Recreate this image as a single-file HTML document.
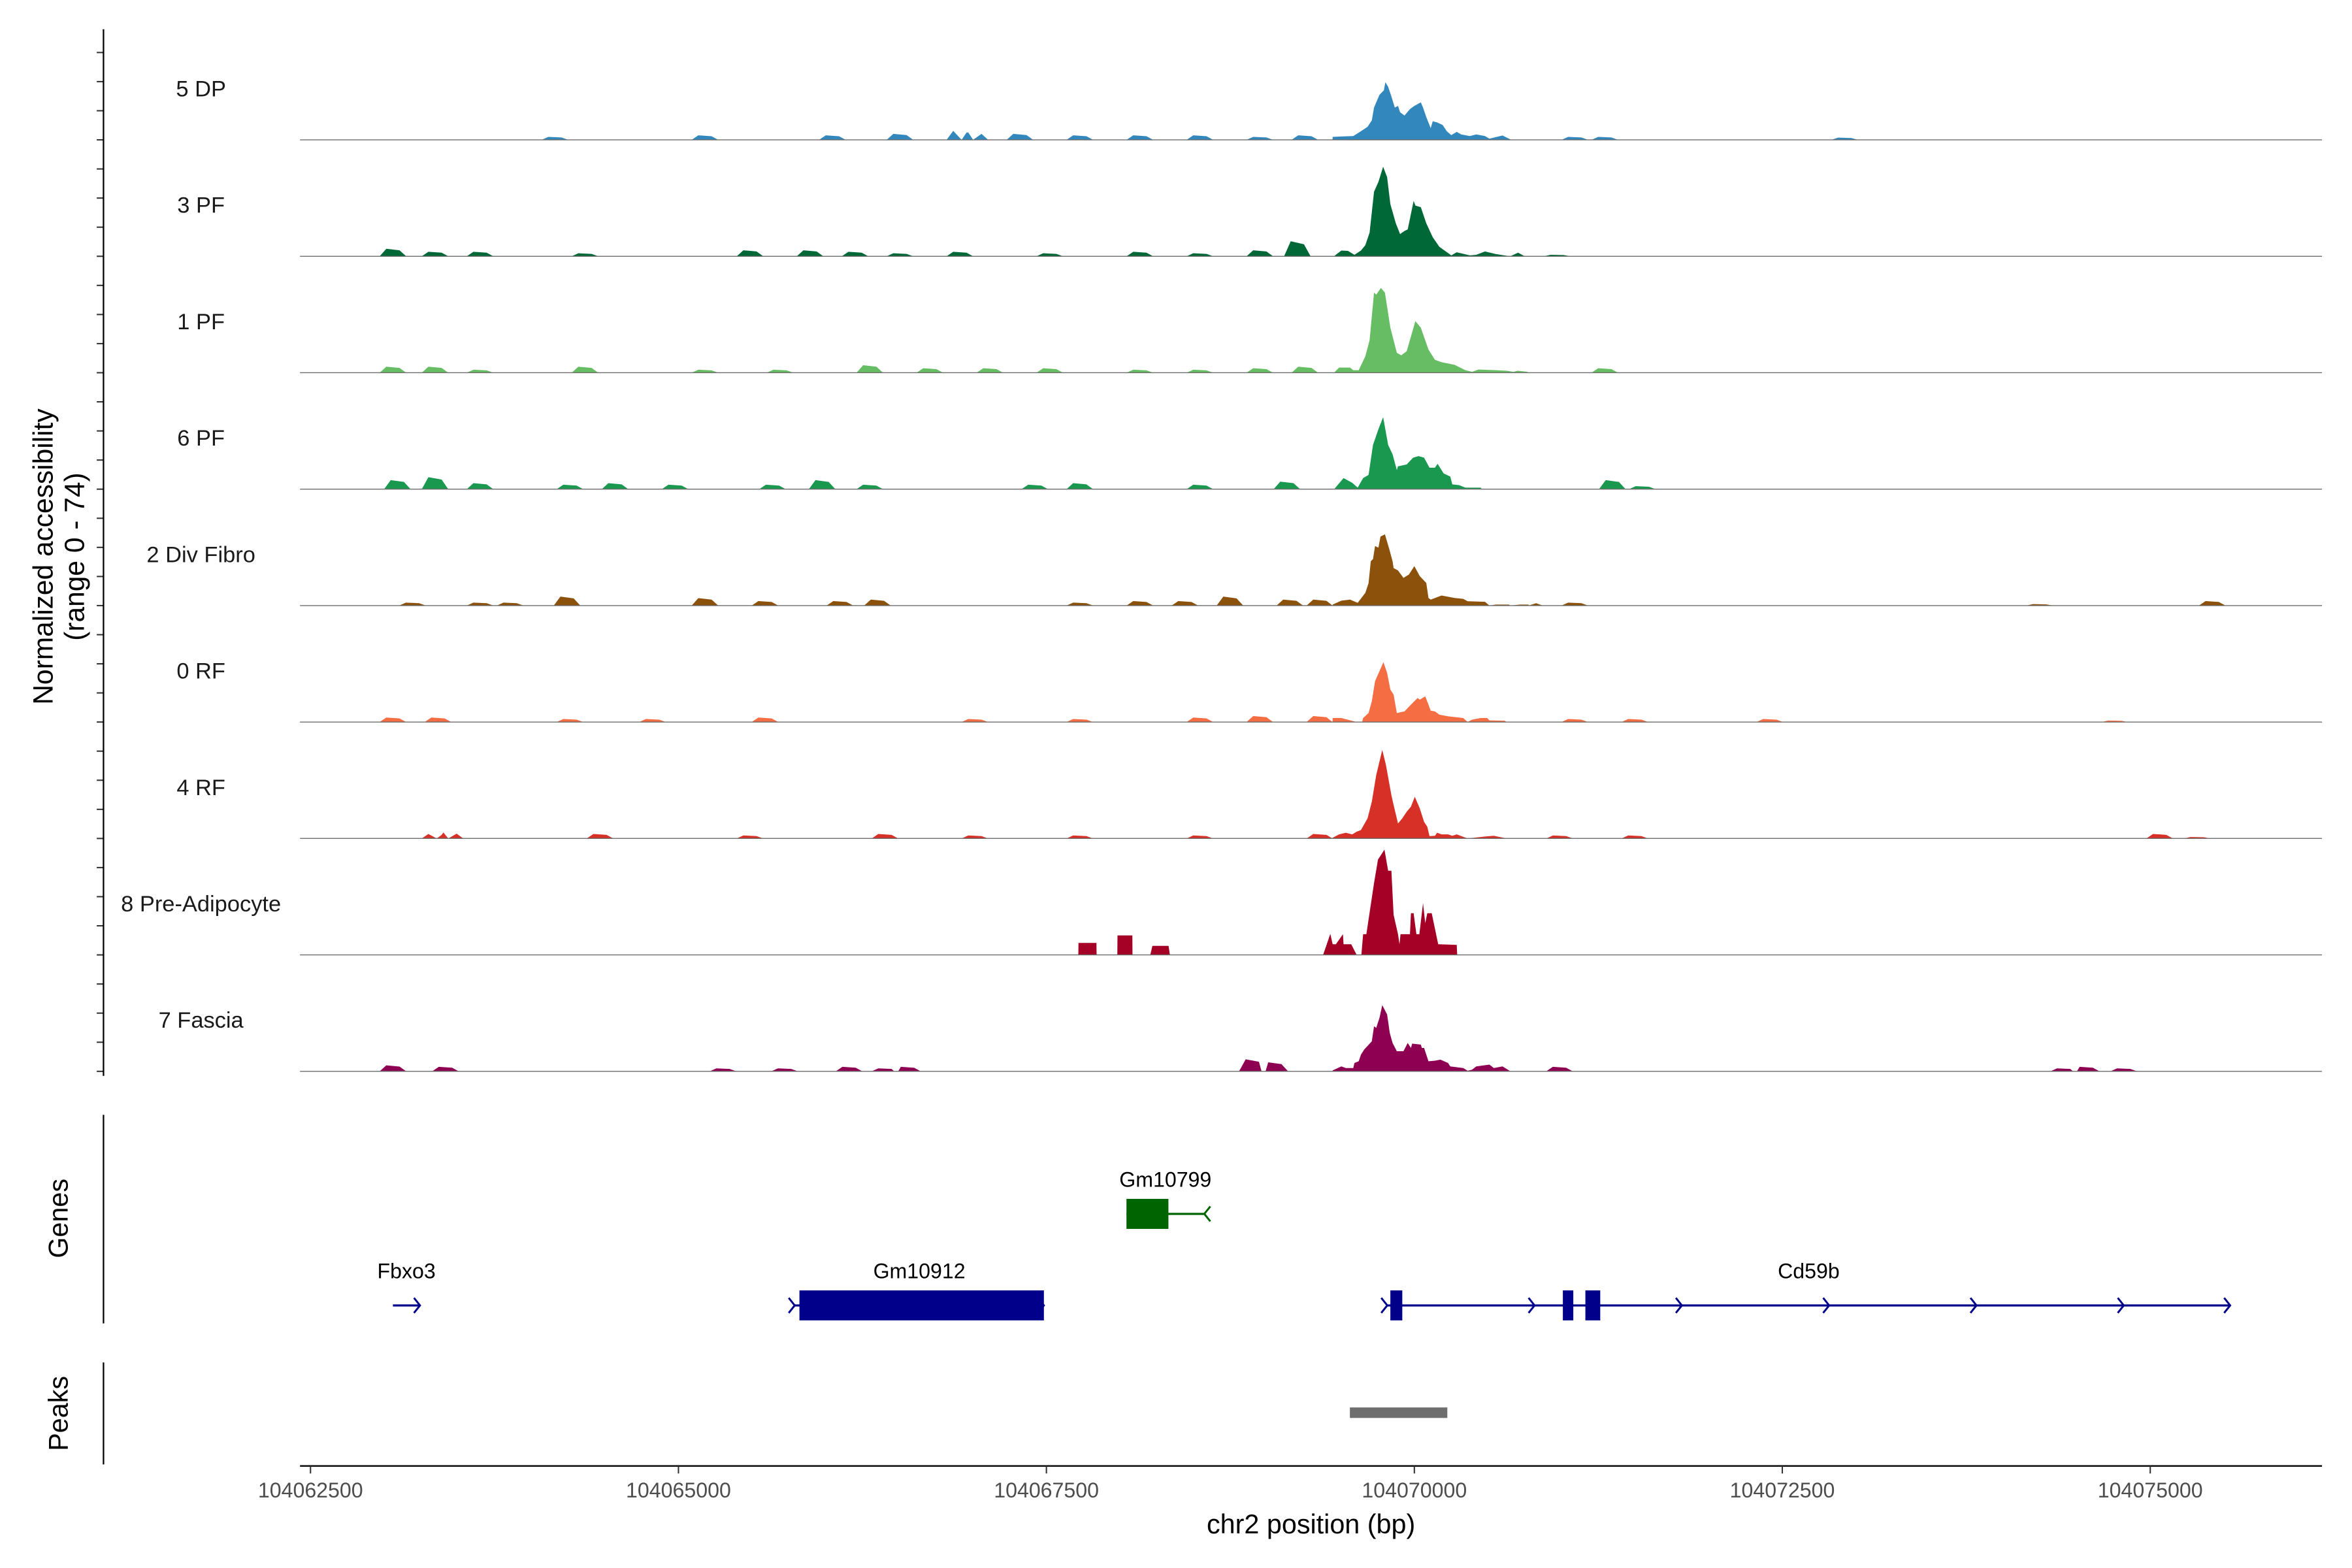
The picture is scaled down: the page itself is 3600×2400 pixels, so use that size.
<!DOCTYPE html>
<html><head><meta charset="utf-8"><style>
html,body{margin:0;padding:0;background:#fff;}
svg{display:block;font-family:"Liberation Sans",Arial,sans-serif;}
</style></head><body>
<svg id="chart" xmlns="http://www.w3.org/2000/svg" width="3600" height="2400" viewBox="0 0 1568 1045" preserveAspectRatio="none">
<g id="tracks"></g>
<g id="axes"></g>
<g id="genes"></g>
<g id="peaks"></g>
</svg>
<script>
const trackNames = ["5 DP","3 PF","1 PF","6 PF","2 Div Fibro","0 RF","4 RF","8 Pre-Adipocyte","7 Fascia"];
const trackColors = ["#3288bd","#006837","#66bd63","#1a9850","#8c510a","#f46d43","#d73027","#a50026","#8e0152"];
const xTicks = [104062500,104065000,104067500,104070000,104072500,104075000];
const yRangeMax = 74;

const pos0 = [104069445,104069519,104069585,104069630,104069682,104069711,104069726,104069763,104069793,104069803,104069822,104069844,104069867,104069889,104069903,104069933,104069970,104070000,104070044,104070059,104070081,104070111,104070125,104070155,104070192,104070221,104070251,104070288,104070318,104070377,104070421,104070480,104070510,104070599,104070658];
const val0 = [2,2.3,2.5,5.3,8.7,13,21.5,30,33,38.4,35.4,29,21.5,22.6,18.4,16.2,20.5,22.6,25,21.5,15.2,7.8,12.4,11.6,9.9,5.7,3.2,5.3,3.6,2.5,3.6,2.5,0.8,2.9,0];
const pos1 = [104069460,104069504,104069549,104069593,104069637,104069667,104069696,104069726,104069756,104069788,104069815,104069837,104069874,104069903,104069933,104069955,104069995,104070007,104070044,104070081,104070125,104070170,104070214,104070251,104070288,104070377,104070421,104070480,104070554,104070650];
const val1 = [0.5,3.8,3.6,1,3.8,7.4,15.8,43,49.6,59.7,52.7,34.8,22,14.8,16.9,17.9,36.9,33.8,32.7,22,12.7,6.3,3.2,0.6,2.7,0.6,1,3.2,1.5,0];
const pos2 = [104069460,104069489,104069563,104069585,104069622,104069667,104069696,104069726,104069741,104069773,104069800,104069837,104069881,104069911,104069948,104070007,104070044,104070096,104070140,104070185,104070273,104070347,104070392,104070436,104070554,104070628,104070673,104070702,104070769];
const val2 = [0.6,3.4,3.4,1.7,1.7,11,21.7,53.4,52,56.5,53.4,30,13.3,11.6,14.3,34.4,30,15.4,8.6,7,5.3,1.7,0.6,2.1,1.7,1.3,0.6,1.3,0.6];
const pos3 = [104069460,104069519,104069578,104069615,104069652,104069689,104069719,104069756,104069788,104069822,104069852,104069881,104069889,104069948,104069992,104070029,104070066,104070103,104070140,104070158,104070199,104070244,104070258,104070303,104070347,104070451,104070458];
const val3 = [0.6,7.4,4.2,1,7.4,9.5,29.5,40,48,29.5,23.2,12.7,15.2,16.5,21,22,21,14.3,14.3,16.9,10.5,8.4,3.2,2.7,1,1,0];
const pos4 = [104069445,104069504,104069563,104069615,104069667,104069689,104069704,104069719,104069733,104069756,104069770,104069800,104069830,104069852,104069859,104069889,104069926,104069963,104070000,104070037,104070081,104070096,104070111,104070185,104070273,104070332,104070362,104070480,104070510,104070554,104070643,104070650,104070717,104070776];
const val4 = [0.7,3.3,4,1.8,8.5,15,29.6,31,39.7,38.6,46,47.5,37.5,29.5,25,23.4,18.5,20.7,26.3,19.6,15.1,5.1,4,6.7,5.1,4.5,2.9,2.5,0,0.7,0.7,0,0.7,0.7];
const pos5 = [104069445,104069504,104069593,104069600,104069645,104069652,104069689,104069711,104069733,104069763,104069790,104069815,104069837,104069859,104069881,104069933,104069977,104070022,104070037,104070074,104070096,104070111,104070140,104070170,104070229,104070332,104070362,104070392,104070451,104070495,104070510,104070613,104070628];
const val5 = [2.7,2.7,0.4,0,0,2.7,6,13.8,27.2,33.9,39.9,32.7,21.6,18.3,6,7.1,11.6,16,14.9,17.1,11.6,7.6,7.1,4.9,3.8,2.7,0,1.6,2.7,2.7,1.1,0.9,0];
const pos6 = [104069445,104069489,104069534,104069578,104069608,104069637,104069682,104069711,104069741,104069782,104069807,104069844,104069859,104069889,104069918,104069948,104069977,104070003,104070037,104070066,104070088,104070103,104070140,104070155,104070185,104070229,104070258,104070288,104070362,104070406,104070480,104070540,104070628];
const val6 = [0.5,2.7,3.8,2.7,4.5,5.6,13.4,24.5,42.3,59,49,28.9,22.3,10,13.4,17.8,21.2,27.8,20,11.1,7.8,1.6,1.8,3.8,2.7,2.7,1.8,2.7,0,0.5,1.3,1.8,0];
const pos7 = [104067717,104067718,104067840,104067841,104067982,104067983,104068084,104068085,104068206,104068220,104068330,104068339,104069380,104069429,104069445,104069467,104069515,104069519,104069571,104069608,104069640,104069652,104069674,104069726,104069753,104069797,104069822,104069844,104069859,104069889,104069899,104069906,104069970,104069977,104069995,104070014,104070034,104070059,104070074,104070088,104070118,104070162,104070288,104070291];
const val7 = [0,8,8,0,0,13,13,0,0,6,6,0,0,14,7.1,7.1,13.8,7.1,7.1,0,0,13.8,13.8,47.9,63.5,70.2,56.1,56.1,26.7,13.8,7.1,13.8,13.8,27.8,27.8,13.8,13.8,34.5,21.2,27.8,27.8,7.1,6.7,0];
const pos8 = [104069445,104069504,104069534,104069585,104069593,104069622,104069637,104069659,104069711,104069726,104069741,104069763,104069782,104069815,104069833,104069852,104069881,104069926,104069955,104069977,104069985,104070044,104070051,104070066,104070096,104070140,104070177,104070229,104070244,104070332,104070362,104070392,104070421,104070510,104070540,104070599,104070643,104070650];
const val8 = [0.6,3.3,2.2,2.2,5.6,6.7,11.1,14.5,20,30,29,35.6,44.1,37.9,25.6,18.9,13.4,13.4,18.9,15.6,18.5,17.8,15.6,15.6,6.7,7.1,7.8,5.6,3.3,2.2,0.4,1.1,3.3,4.5,2.2,3.3,0.6,0];

const bumpPos0 = [104064161,104065180,104066046,104066505,104066912,104067014,104067320,104067727,104068135,104068543,104068950,104069256,104071090,104071294,104072924];
const bumpVal0 = [2,3,3,4,6,5,4,3,3,3,2,3,2,2,1.5];
const bumpPos1 = [104063060,104063346,104063652,104064365,104065486,104065894,104066200,104066505,104066912,104067523,104068135,104068543,104068950,104069205,104070660,104070970];
const bumpVal1 = [5,3,3,2,4,4,3,2,3,2,3,2,4,10,3,1];
const bumpPos2 = [104063060,104063346,104063652,104064365,104065180,104065690,104066300,104066708,104067116,104067523,104068135,104068543,104068950,104069256,104071294];
const bumpVal2 = [4,4,2,4,2,2,5,3,3,3,2,2,3,4,3];
const bumpPos3 = [104063090,104063346,104063652,104064263,104064569,104064977,104065639,104065976,104066300,104067421,104067727,104068543,104069134,104071345,104071549];
const bumpVal3 = [6,8,4,3,4,3,3,6,3,3,4,3,5,6,2];
const bumpPos4 = [104063193,104063652,104063856,104064243,104065180,104065588,104066097,104066352,104067727,104068135,104068441,104068747,104069154,104069358,104070782,104071090,104074249,104075421];
const bumpVal4 = [2,2,2,6,5,3,3,4,2,3,3,6,4,4,2,2,1,3];
const bumpPos5 = [104063060,104063366,104064263,104064824,104065588,104067014,104067727,104068543,104068950,104069358,104071090,104071498,104072415,104074759];
const bumpVal5 = [3,3,2,2,3,2,2,3,4,4,2,2,2,1];
const bumpPos6 = [104063346,104063448,104064467,104065486,104066403,104067014,104067727,104068543,104069358,104070987,104071498,104075064,104075319];
const bumpVal6 = [3,4,3,2,3,2,2,2,3,2,2,3,1];
const bumpPos7 = [];
const bumpVal7 = [];
const bumpPos8 = [104063060,104063417,104065303,104065721,104066159,104066403,104066556,104068899,104069052,104070986,104074412,104074565,104074820];
const bumpVal8 = [4,3,2,2,3,2,3,8,6,3,2,3,2];

const allPos = [pos0,pos1,pos2,pos3,pos4,pos5,pos6,pos7,pos8];
const allVal = [val0,val1,val2,val3,val4,val5,val6,val7,val8];
const allBumpPos = [bumpPos0,bumpPos1,bumpPos2,bumpPos3,bumpPos4,bumpPos5,bumpPos6,bumpPos7,bumpPos8];
const allBumpVal = [bumpVal0,bumpVal1,bumpVal2,bumpVal3,bumpVal4,bumpVal5,bumpVal6,bumpVal7,bumpVal8];

const geneNames = ["Fbxo3","Gm10912","Gm10799","Cd59b"];
const geneStarts = [104063060,104065790,104068044,104069816];
const geneEnds = [104063244,104067483,104068573,104075543];
const geneStrands = [1,1,-1,1];
const exonGene = [1,2,3,3,3];
const exonStarts = [104065822,104068044,104069837,104071009,104071162];
const exonEnds = [104067483,104068329,104069918,104071080,104071263];
const peakStarts = [104069562];
const peakEnds = [104070224];

const NS = "http://www.w3.org/2000/svg";
const X0 = 200, X1 = 1548;
function xs(bp){ return 207 + (bp - 104062500) / 2500 * 245.3; }
function base(i){ return 93.2 + i * 77.6; }
function ys(i, v){ return base(i) - v * (77.6 / (yRangeMax + 3.6)); }
function mk(tag, attrs, parent){ const e = document.createElementNS(NS, tag); for (const k in attrs) e.setAttribute(k, attrs[k]); parent.appendChild(e); return e; }

const gT = document.getElementById('tracks');
const gA = document.getElementById('axes');
const gG = document.getElementById('genes');
const gP = document.getElementById('peaks');

for (let i = 0; i < trackNames.length; i++) {
  const b = base(i);
  let pts = [];
  const bp = allBumpPos[i], bv = allBumpVal[i];
  for (let k = 0; k < bp.length; k++) {
    pts.push([bp[k] - 90, 0]); pts.push([bp[k] - 45, bv[k]]); pts.push([bp[k] + 45, bv[k] * 0.8]); pts.push([bp[k] + 90, 0]);
  }
  const p = allPos[i], v = allVal[i];
  const main = [];
  main.push([p[0] - 1, 0]);
  for (let k = 0; k < p.length; k++) main.push([p[k], v[k]]);
  main.push([p[p.length - 1] + 1, 0]);
  const lo = p[0], hi = p[p.length - 1];
  pts = pts.filter(q => q[0] < lo - 1 || q[0] > hi + 1).concat(main);
  pts.sort((a, c) => a[0] - c[0]);
  let d = "M" + X0 + "," + b;
  for (const q of pts) d += " L" + xs(q[0]).toFixed(2) + "," + ys(i, q[1]).toFixed(2);
  d += " L" + X1 + "," + b + " Z";
  const area = mk('path', {d: d, fill: trackColors[i], stroke: 'none'}, gT);
  
  
  const ln = mk('line', {x1: X0, x2: X1, y1: b, y2: b, stroke: '#6b6b6b', 'stroke-width': 0.6}, gT);
  
  
  const lab = mk('text', {x: 134, y: b - 29, 'text-anchor': 'middle', 'font-size': 15, fill: '#1a1a1a'}, gT);
  lab.textContent = trackNames[i];
  
  
  for (let t = 0; t < 4; t++) {
    const ty = b - t * 19.4;
    const tk = mk('line', {x1: 64.5, x2: 69, y1: ty, y2: ty, stroke: '#333', 'stroke-width': 0.9}, gA);
    
    
  }
}

const ya = mk('line', {x1: 69, x2: 69, y1: 19.5, y2: 717, stroke: '#000', 'stroke-width': 1}, gA);


const yt = mk('text', {transform: 'translate(35,371) rotate(-90)', 'text-anchor': 'middle', 'font-size': 18.5, fill: '#000'}, gA);
yt.textContent = 'Normalized accessibility';


const yt2 = mk('text', {transform: 'translate(56,371) rotate(-90)', 'text-anchor': 'middle', 'font-size': 18.5, fill: '#000'}, gA);
yt2.textContent = '(range 0 - 74)';



const ga = mk('line', {x1: 69, x2: 69, y1: 743, y2: 882, stroke: '#000', 'stroke-width': 1}, gA);


const gl = mk('text', {transform: 'translate(45,812) rotate(-90)', 'text-anchor': 'middle', 'font-size': 18, fill: '#000'}, gA);
gl.textContent = 'Genes';


const pa = mk('line', {x1: 69, x2: 69, y1: 908, y2: 976, stroke: '#000', 'stroke-width': 1}, gA);


const pl = mk('text', {transform: 'translate(45,942) rotate(-90)', 'text-anchor': 'middle', 'font-size': 18, fill: '#000'}, gA);
pl.textContent = 'Peaks';



const xa = mk('line', {x1: X0, x2: X1, y1: 977, y2: 977, stroke: '#000', 'stroke-width': 1}, gA);


for (const t of xTicks) {
  const tk = mk('line', {x1: xs(t), x2: xs(t), y1: 977, y2: 982, stroke: '#333', 'stroke-width': 0.9}, gA);
  
  
  const tl = mk('text', {x: xs(t), y: 998, 'text-anchor': 'middle', 'font-size': 14, fill: '#4d4d4d'}, gA);
  tl.textContent = String(t);
  
  
}
const xt = mk('text', {x: 874, y: 1022, 'text-anchor': 'middle', 'font-size': 18, fill: '#000'}, gA);
xt.textContent = 'chr2 position (bp)';



for (let g = 0; g < geneNames.length; g++) {
  const rev = geneStrands[g] < 0;
  const col = rev ? '#006400' : '#00008b';
  const y = rev ? 809 : 870;
  const x1 = xs(geneStarts[g]), x2 = xs(geneEnds[g]);
  const grp = mk('g', {}, gG);
  
  
  mk('line', {x1: x1, x2: x2, y1: y, y2: y, stroke: col, 'stroke-width': 1.4}, grp);
  const dir = rev ? -1 : 1;
  const marks = [];
  if (rev) { marks.push(x2); }
  else if (x2 - x1 < 40) { marks.push(x2); }
  else { for (let cx = x1; cx < x2 - 20; cx += 98.2) marks.push(cx); marks.push(x2); }
  for (const cx of marks) {
    mk('path', {d: 'M' + (cx - 4 * dir) + ',' + (y - 5) + ' L' + cx + ',' + y + ' L' + (cx - 4 * dir) + ',' + (y + 5), fill: 'none', stroke: col, 'stroke-width': 1.3}, grp);
  }
  const lab = mk('text', {x: (x1 + x2) / 2, y: y - 18, 'text-anchor': 'middle', 'font-size': 14, fill: '#000'}, grp);
  lab.textContent = geneNames[g];
  
  
}
for (let e = 0; e < exonStarts.length; e++) {
  const g = exonGene[e];
  const rev = geneStrands[g] < 0;
  const col = rev ? '#006400' : '#00008b';
  const y = rev ? 809 : 870;
  const r = mk('rect', {x: xs(exonStarts[e]), y: y - 10, width: xs(exonEnds[e]) - xs(exonStarts[e]), height: 20, fill: col}, gG);
  
  
}
for (let p = 0; p < peakStarts.length; p++) {
  const r = mk('rect', {x: xs(peakStarts[p]), y: 938, width: xs(peakEnds[p]) - xs(peakStarts[p]), height: 7, fill: '#6e6e6e'}, gP);
  
  
}
</script>
</body></html>
